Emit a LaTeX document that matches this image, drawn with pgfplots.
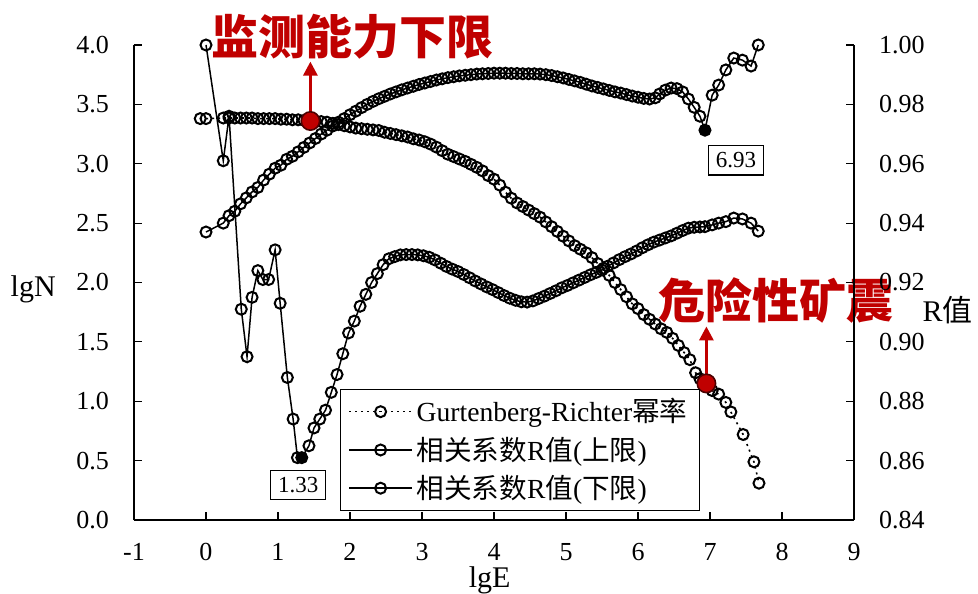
\documentclass[border=0pt]{standalone}
\usepackage{pgfplots}
\pgfplotsset{compat=1.18}
\usepackage{fontspec}
\setmainfont{Liberation Serif}
\newfontfamily\cjk{Noto Sans CJK SC}
\usetikzlibrary{arrows.meta}
\definecolor{hired}{HTML}{C00000}

% Gutenberg-Richter: lgE, lgN
\pgfplotstableread{
x y
-0.08 3.38
0.00 3.38
0.24 3.385
0.32 3.385
0.40 3.385
0.48 3.385
0.56 3.385
0.64 3.385
0.72 3.38
0.80 3.38
0.88 3.38
0.96 3.38
1.04 3.375
1.12 3.375
1.20 3.37
1.28 3.37
1.36 3.365
1.44 3.36
1.52 3.36
1.60 3.355
1.68 3.35
1.76 3.34
1.84 3.33
1.92 3.32
2.00 3.31
2.08 3.30
2.16 3.295
2.24 3.29
2.32 3.285
2.40 3.28
2.48 3.265
2.56 3.255
2.64 3.245
2.72 3.235
2.80 3.225
2.88 3.21
2.96 3.20
3.04 3.185
3.12 3.165
3.20 3.14
3.28 3.11
3.36 3.08
3.44 3.06
3.52 3.04
3.60 3.02
3.68 2.995
3.76 2.97
3.84 2.94
3.92 2.90
4.00 2.87
4.08 2.82
4.16 2.76
4.24 2.71
4.32 2.67
4.40 2.64
4.48 2.61
4.56 2.58
4.64 2.55
4.72 2.51
4.80 2.47
4.88 2.43
4.96 2.39
5.04 2.35
5.12 2.31
5.20 2.28
5.28 2.25
5.36 2.21
5.44 2.16
5.52 2.12
5.60 2.06
5.68 2.00
5.76 1.94
5.84 1.88
5.92 1.82
6.00 1.78
6.08 1.73
6.16 1.69
6.24 1.65
6.32 1.61
6.40 1.58
6.48 1.53
6.56 1.47
6.64 1.41
6.72 1.35
6.80 1.24
6.86 1.19
6.93 1.15
7.03 1.09
7.12 1.06
7.22 0.99
7.29 0.91
7.46 0.72
7.61 0.49
7.68 0.31
}\grdata

% R (upper limit)
\pgfplotstableread{
x y
0.00 1.000
0.24 0.961
0.32 0.976
0.49 0.911
0.57 0.895
0.64 0.915
0.72 0.924
0.79 0.921
0.87 0.921
0.96 0.931
1.03 0.913
1.13 0.888
1.21 0.874
1.27 0.861
1.33 0.861
1.43 0.865
1.50 0.871
1.58 0.874
1.66 0.877
1.74 0.883
1.82 0.889
1.90 0.896
1.98 0.903
2.06 0.907
2.14 0.912
2.22 0.916
2.30 0.920
2.38 0.923
2.46 0.926
2.54 0.928
2.62 0.9287
2.70 0.9293
2.78 0.9294
2.86 0.9294
2.94 0.9293
3.02 0.9290
3.10 0.9285
3.18 0.9276
3.26 0.9265
3.34 0.9254
3.42 0.9245
3.50 0.9237
3.58 0.9227
3.66 0.9216
3.74 0.9205
3.82 0.9195
3.90 0.9185
3.98 0.9176
4.06 0.9166
4.14 0.9156
4.22 0.9147
4.30 0.9140
4.38 0.9135
4.46 0.9134
4.54 0.9138
4.62 0.9146
4.70 0.9154
4.78 0.9163
4.86 0.9172
4.94 0.9182
5.02 0.9190
5.10 0.9199
5.18 0.9208
5.26 0.9217
5.34 0.9226
5.42 0.9234
5.50 0.9242
5.58 0.9255
5.66 0.9266
5.74 0.9277
5.82 0.9287
5.90 0.9296
5.98 0.9306
6.06 0.9317
6.14 0.9327
6.22 0.9336
6.30 0.9343
6.38 0.9350
6.46 0.9357
6.54 0.9366
6.62 0.9375
6.70 0.9383
6.78 0.9386
6.86 0.9387
6.93 0.9388
7.03 0.9394
7.12 0.9400
7.22 0.9405
7.33 0.9417
7.45 0.9414
7.57 0.9400
7.67 0.9373
}\updata

% R (lower limit)
\pgfplotstableread{
x y
0.00 0.937
0.24 0.940
0.32 0.9425
0.40 0.944
0.48 0.9465
0.56 0.9485
0.64 0.9505
0.72 0.952
0.80 0.9545
0.88 0.9565
0.96 0.9585
1.04 0.9595
1.12 0.9615
1.20 0.9625
1.28 0.964
1.36 0.9655
1.44 0.9670
1.52 0.9685
1.60 0.9700
1.68 0.9713
1.76 0.9727
1.84 0.9740
1.92 0.9752
2.00 0.9765
2.08 0.9777
2.16 0.9789
2.24 0.9800
2.32 0.9810
2.40 0.9819
2.48 0.9827
2.56 0.9835
2.64 0.9842
2.72 0.9849
2.80 0.9855
2.88 0.9861
2.96 0.9867
3.04 0.9872
3.12 0.9877
3.20 0.9882
3.28 0.9886
3.36 0.9890
3.44 0.9893
3.52 0.9896
3.60 0.9898
3.68 0.9900
3.76 0.9902
3.84 0.9903
3.92 0.9904
4.00 0.9905
4.08 0.9905
4.16 0.9905
4.24 0.9904
4.32 0.9904
4.40 0.9903
4.48 0.9903
4.56 0.9903
4.64 0.9902
4.72 0.9900
4.80 0.9897
4.88 0.9893
4.96 0.9889
5.04 0.9884
5.12 0.9879
5.20 0.9874
5.28 0.9868
5.36 0.9862
5.44 0.9857
5.52 0.9852
5.60 0.9847
5.68 0.9842
5.76 0.9838
5.84 0.9833
5.92 0.9828
6.00 0.9824
6.08 0.9820
6.16 0.9818
6.24 0.9822
6.30 0.9835
6.38 0.9848
6.46 0.9855
6.54 0.9853
6.62 0.9842
6.70 0.9818
6.78 0.9790
6.86 0.9760
6.93 0.9713
7.03 0.9831
7.12 0.9865
7.22 0.9916
7.33 0.9956
7.45 0.9949
7.57 0.9929
7.67 1.000
}\lowdata

\begin{document}
\begin{tikzpicture}
\pgfplotsset{
  base/.style={
    width=360pt, height=237.5pt, scale only axis,
    xmin=-1, xmax=9,
    tick align=inside, major tick length=4pt,
    tick style={black, line width=0.6pt},
    axis line style={line width=0.6pt},
    ticklabel style={font=\fontsize{13}{13}\selectfont},
    label style={font=\fontsize{15}{15}\selectfont},
    /pgf/number format/assume math mode=true,
    clip=false,
  },
  ring/.style={black, line width=0.75pt, mark=o, mark size=2.75pt,
    mark options={solid, line width=1pt}},
}
\begin{axis}[base,
  ymin=0, ymax=4,
  axis x line*=bottom, axis y line*=left,
  xtick={-1,0,...,9}, ytick={0,0.5,...,4},
  yticklabel style={xshift=-9pt, /pgf/number format/.cd, fixed, fixed zerofill, precision=1},
  xticklabel style={yshift=-8pt},
  xlabel={lgE}, ylabel={lgN},
  xlabel style={at={(axis description cs:0.494,-0.128)}, anchor=center},
  ylabel style={rotate=-90, at={(axis description cs:-0.14,0.486)}, anchor=center},
]
\addplot[ring, line width=0.8pt, dash pattern=on 1pt off 2pt] table {\grdata};
\addplot[only marks, mark=*, mark size=4.6pt,
  mark options={fill=hired, draw=black!60!hired, line width=0.8pt}]
  coordinates {(1.45,3.36) (6.95,1.15)};
\draw[hired, line width=1.5pt, -{Triangle[length=7pt,width=7pt]}]
  (axis cs:1.45,3.44) -- (axis cs:1.45,3.86);
\draw[hired, line width=1.5pt, -{Triangle[length=7pt,width=7pt]}]
  (axis cs:6.95,1.23) -- (axis cs:6.95,1.63);
\node[text=hired, font=\cjk\bfseries\fontsize{23.5}{24}\selectfont]
  at (axis cs:2.04,4.07) {监测能力下限};
\node[text=hired, font=\cjk\bfseries\fontsize{23.5}{24}\selectfont]
  at (axis cs:7.92,1.85) {危险性矿震};
\node[draw=black, fill=white, line width=0.6pt, inner xsep=3.7pt, inner ysep=3.5pt,
  font=\fontsize{11.5}{12}\selectfont] at (axis cs:1.28,0.295) {1.33};
\node[draw=black, fill=white, line width=0.6pt, inner xsep=3.7pt, inner ysep=3.5pt,
  font=\fontsize{11.5}{12}\selectfont] at (axis cs:7.36,3.03) {6.93};
\end{axis}

\begin{axis}[base,
  ymin=0.84, ymax=1.00,
  axis y line*=right, axis x line=none,
  ytick={0.84,0.86,0.88,0.90,0.92,0.94,0.96,0.98,1.00},
  yticklabel style={xshift=9pt, /pgf/number format/.cd, fixed, fixed zerofill, precision=2},
  ylabel={R{\cjk 值}},
  ylabel style={rotate=-90, at={(axis description cs:1.13,0.442)}, anchor=center},
  legend style={at={(0.286,0.276)}, anchor=north west, draw=black, line width=0.6pt,
    fill=white, font=\fontsize{13.8}{14}\selectfont, row sep=2pt,
    inner xsep=4pt, inner ysep=2.5pt},
  legend cell align=left,
  legend image code/.code={\draw[mark repeat=2, mark phase=2]
    plot coordinates {(0cm,0cm) (0.55cm,0cm) (1.1cm,0cm)};},
]
\addlegendimage{ring, line width=0.8pt, dash pattern=on 1pt off 2pt}
\addlegendentry{Gurtenberg-Richter{\cjk 幂率}}
\addplot[ring] table {\updata};
\addlegendentry{{\cjk 相关系数}R{\cjk 值}({\cjk 上限})}
\addplot[ring] table {\lowdata};
\addlegendentry{{\cjk 相关系数}R{\cjk 值}({\cjk 下限})}
\addplot[only marks, mark=*, mark size=2.7pt, black, forget plot]
  coordinates {(1.33,0.861) (6.93,0.9713)};
\coordinate (bbA) at (rel axis cs:-0.1861,-0.1537);
\coordinate (bbB) at (rel axis cs:1.1722,1.0947);
\end{axis}
\pgfresetboundingbox
\path[use as bounding box] (bbA) rectangle (bbB);
\end{tikzpicture}
\end{document}
